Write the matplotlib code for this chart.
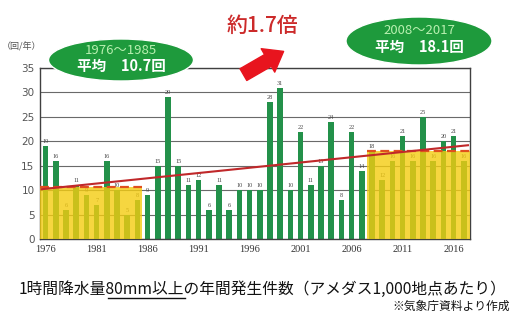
import matplotlib
matplotlib.use("Agg")
import matplotlib.pyplot as plt
import matplotlib.patches as mpatches
import numpy as np

years = list(range(1976, 2018))
counts = [19, 16, 6, 11, 9, 7, 16, 10, 5, 8,
          9, 15, 29, 15, 11, 12, 6, 11, 6, 10, 10, 10, 28, 31, 10, 22, 11, 15, 24, 8, 22, 14,
          18, 12, 16, 21, 16, 25, 16, 20, 21, 16]
xtick_years = [1976, 1981, 1986, 1991, 1996, 2001, 2006, 2011, 2016]
yticks = [0, 5, 10, 15, 20, 25, 30, 35]
period1 = (1976, 1985)
period2 = (2008, 2017)
avg1 = 10.7
avg2 = 18.1

W, H = 525, 316
fig = plt.figure(figsize=(W / 100, H / 100), dpi=100)
fig.patch.set_facecolor("white")

def fx(x):
    return x / W

def fy(y):
    return 1 - y / H

ax = fig.add_axes([fx(40), fy(239), fx(470) - fx(40), fy(68) - fy(239)])
ax.set_xlim(1975.45, 2017.6)
ax.set_ylim(0, 35)

green = "#23914a"
ax.bar(years, counts, width=0.55, color=green, zorder=2)
for yr, v in zip(years, counts):
    ax.text(yr, v + 0.4, str(v), ha="center", va="bottom", fontsize=4.5,
            family="Liberation Serif", color="#444444", zorder=2)

# yellow overlays
yellow = "#f4cc10"
x0 = ax.get_xlim()[0]
x1 = ax.get_xlim()[1]
ax.add_patch(mpatches.Rectangle((x0, 0), period1[1] + 0.45 - x0, avg1,
                                facecolor=yellow, alpha=0.8, edgecolor="none", zorder=3))
ax.add_patch(mpatches.Rectangle((period2[0] - 0.45, 0), x1 - (period2[0] - 0.45), avg2,
                                facecolor=yellow, alpha=0.8, edgecolor="none", zorder=3))
ax.plot([x0, period1[1] + 0.45], [avg1, avg1], color="#e0501e", lw=1.6,
        dashes=(4, 2), zorder=4)
ax.plot([period2[0] - 0.45, x1], [avg2, avg2], color="#e0501e", lw=1.6,
        dashes=(4, 2), zorder=4)

# trend line
coef = np.polyfit(years, counts, 1)
tx = np.array([1975.6, 2017.4])
ax.plot(tx, np.polyval(coef, tx), color="#c0282a", lw=1.5, zorder=5)

ax.set_yticks(yticks)
ax.set_xticks(xtick_years)
ax.yaxis.grid(True, color="#6a6a6a", lw=0.8, zorder=1)
ax.set_axisbelow(True)
ax.tick_params(length=0, pad=4)
for lab in ax.get_yticklabels():
    lab.set_fontsize(7.5)
    lab.set_color("#555555")
    lab.set_family("DejaVu Sans")
for lab in ax.get_xticklabels():
    lab.set_fontsize(7.5)
    lab.set_color("#333333")
    lab.set_family("Liberation Serif")
for sp in ax.spines.values():
    sp.set_color("#404040")
    sp.set_linewidth(1.0)

jp = ["Noto Sans CJK JP", "DejaVu Sans"]

fig.text(fx(22), fy(47), "（回/年）", fontsize=6.5, family=jp, color="#555555",
         ha="center", va="center")

# ellipses
e1 = mpatches.Ellipse((fx(121), fy(60)), 145 / W, 42 / H, transform=fig.transFigure,
                      facecolor="#1e9a3c", edgecolor="white", lw=1, zorder=10)
e2 = mpatches.Ellipse((fx(419), fy(41)), 146 / W, 48 / H, transform=fig.transFigure,
                      facecolor="#1e9a3c", edgecolor="white", lw=1, zorder=10)
fig.add_artist(e1)
fig.add_artist(e2)
fig.text(fx(121), fy(51), "1976～1985", fontsize=9.5, family=jp, color="#b8f0b0",
         ha="center", va="center", zorder=11)
fig.text(fx(121), fy(66), "平均　10.7回", fontsize=10.5, family=jp, color="white",
         weight="bold", ha="center", va="center", zorder=11)
fig.text(fx(419), fy(31), "2008～2017", fontsize=9.5, family=jp, color="#b8f0b0",
         ha="center", va="center", zorder=11)
fig.text(fx(419), fy(47), "平均　18.1回", fontsize=10.5, family=jp, color="white",
         weight="bold", ha="center", va="center", zorder=11)

# 約1.7倍 and arrow
fig.text(fx(262), fy(26), "約1.7倍", fontsize=15, family=jp, color="#cc2a2a",
         weight="medium", ha="center", va="center", zorder=11)
arrow = mpatches.FancyArrowPatch((fx(241), fy(76)), (fx(286), fy(50)),
                                 transform=fig.transFigure,
                                 arrowstyle="simple,head_width=1.5,head_length=1.0,tail_width=0.75",
                                 mutation_scale=13, facecolor="#e8141e", edgecolor="#e8141e",
                                 zorder=11)
fig.add_artist(arrow)

# caption
fs_cap = 11.3
pre = "1時間降水量"
mid = "80mm以上"
post = "の年間発生件数（アメダス1,000地点あたり）"
cap = fig.text(fx(263), fy(289), pre + mid + post,
               fontsize=fs_cap, family=jp, color="#111111", ha="center", va="center")
fig.canvas.draw()
r = fig.canvas.get_renderer()
bb = cap.get_window_extent(r)
t1 = fig.text(0, 0, pre + "|", fontsize=fs_cap, family=jp)
t2 = fig.text(0, 0, pre + mid + "|", fontsize=fs_cap, family=jp)
t0 = fig.text(0, 0, "|", fontsize=fs_cap, family=jp)
wbar = t0.get_window_extent(r).width
w1 = t1.get_window_extent(r).width - wbar
w2 = t2.get_window_extent(r).width - wbar
for t in (t0, t1, t2):
    t.remove()
ux0 = (bb.x0 + w1 + 1.5) / fig.bbox.width
ux1 = (bb.x0 + w2 + 0.5) / fig.bbox.width
uy = fy(298)
fig.add_artist(plt.Line2D([ux0, ux1], [uy, uy], transform=fig.transFigure,
                          color="#111111", lw=1.0))

fig.text(fx(510), fy(306), "※気象庁資料より作成", fontsize=8.5, family=jp,
         color="#111111", ha="right", va="center")

fig.savefig("out.png", dpi=100)
